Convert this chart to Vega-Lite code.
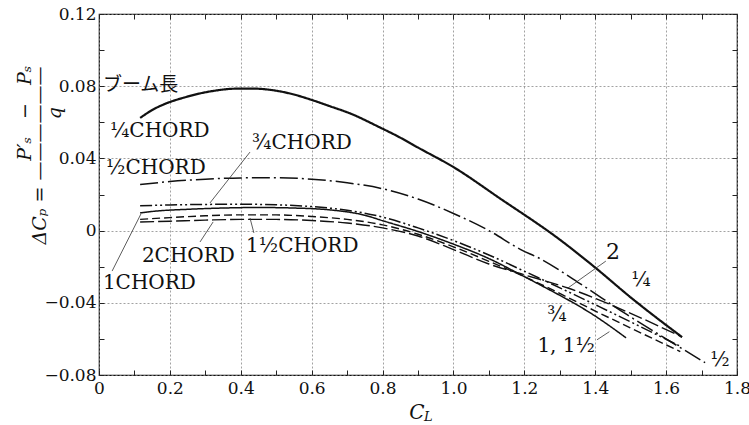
{
  "$schema": "https://vega.github.io/schema/vega-lite/v6.json",
  "width": 638,
  "height": 361,
  "autosize": "none",
  "padding": {"left": 99, "top": 14, "right": 12, "bottom": 50},
  "background": "white",
  "config": {
    "view": {"stroke": "#111", "strokeWidth": 1.2},
    "axis": {"labelFont": "DejaVu Serif", "labelColor": "#111", "tickColor": "#222", "domain": false}
  },
  "datasets": {
    "curves": [
      {"series": "1/4", "x": 0.116, "y": 0.0624},
      {"series": "1/4", "x": 0.15, "y": 0.0668},
      {"series": "1/4", "x": 0.19, "y": 0.0705},
      {"series": "1/4", "x": 0.24, "y": 0.0737},
      {"series": "1/4", "x": 0.285, "y": 0.076},
      {"series": "1/4", "x": 0.33, "y": 0.0776},
      {"series": "1/4", "x": 0.38, "y": 0.0786},
      {"series": "1/4", "x": 0.43, "y": 0.0787},
      {"series": "1/4", "x": 0.5, "y": 0.0775},
      {"series": "1/4", "x": 0.55, "y": 0.0754},
      {"series": "1/4", "x": 0.6, "y": 0.0724},
      {"series": "1/4", "x": 0.65, "y": 0.069},
      {"series": "1/4", "x": 0.71, "y": 0.0648},
      {"series": "1/4", "x": 0.79, "y": 0.0574},
      {"series": "1/4", "x": 0.85, "y": 0.0515},
      {"series": "1/4", "x": 0.9, "y": 0.046},
      {"series": "1/4", "x": 1.0, "y": 0.0352},
      {"series": "1/4", "x": 1.13, "y": 0.018},
      {"series": "1/4", "x": 1.3, "y": -0.005},
      {"series": "1/4", "x": 1.4, "y": -0.0205},
      {"series": "1/4", "x": 1.5, "y": -0.037},
      {"series": "1/4", "x": 1.645, "y": -0.059},
      {"series": "1/2", "x": 0.116, "y": 0.0255},
      {"series": "1/2", "x": 0.2, "y": 0.0272},
      {"series": "1/2", "x": 0.3, "y": 0.0285},
      {"series": "1/2", "x": 0.4, "y": 0.0292},
      {"series": "1/2", "x": 0.5, "y": 0.0293},
      {"series": "1/2", "x": 0.6, "y": 0.0285},
      {"series": "1/2", "x": 0.7, "y": 0.0265},
      {"series": "1/2", "x": 0.8, "y": 0.0232},
      {"series": "1/2", "x": 0.9, "y": 0.0175},
      {"series": "1/2", "x": 1.0, "y": 0.0095},
      {"series": "1/2", "x": 1.1, "y": 0.0},
      {"series": "1/2", "x": 1.19, "y": -0.0105},
      {"series": "1/2", "x": 1.244, "y": -0.0155},
      {"series": "1/2", "x": 1.35, "y": -0.0285},
      {"series": "1/2", "x": 1.49, "y": -0.0466},
      {"series": "1/2", "x": 1.6, "y": -0.06},
      {"series": "1/2", "x": 1.71, "y": -0.0732},
      {"series": "3/4", "x": 0.116, "y": 0.0138},
      {"series": "3/4", "x": 0.2, "y": 0.0142},
      {"series": "3/4", "x": 0.3, "y": 0.0145},
      {"series": "3/4", "x": 0.4, "y": 0.0146},
      {"series": "3/4", "x": 0.5, "y": 0.0143},
      {"series": "3/4", "x": 0.6, "y": 0.0133},
      {"series": "3/4", "x": 0.7, "y": 0.0113},
      {"series": "3/4", "x": 0.8, "y": 0.0075},
      {"series": "3/4", "x": 0.9, "y": 0.0015},
      {"series": "3/4", "x": 1.0, "y": -0.0055},
      {"series": "3/4", "x": 1.1, "y": -0.0135},
      {"series": "3/4", "x": 1.2, "y": -0.0225},
      {"series": "3/4", "x": 1.244, "y": -0.0265},
      {"series": "3/4", "x": 1.41, "y": -0.042},
      {"series": "3/4", "x": 1.64, "y": -0.0641},
      {"series": "1", "x": 0.116, "y": 0.0098},
      {"series": "1", "x": 0.16, "y": 0.0108},
      {"series": "1", "x": 0.25, "y": 0.0118},
      {"series": "1", "x": 0.35, "y": 0.0125},
      {"series": "1", "x": 0.45, "y": 0.0128},
      {"series": "1", "x": 0.55, "y": 0.0125},
      {"series": "1", "x": 0.65, "y": 0.0115},
      {"series": "1", "x": 0.75, "y": 0.0085},
      {"series": "1", "x": 0.8, "y": 0.0055},
      {"series": "1", "x": 0.9, "y": -0.0005},
      {"series": "1", "x": 1.0, "y": -0.0075},
      {"series": "1", "x": 1.1, "y": -0.0155},
      {"series": "1", "x": 1.2, "y": -0.0255},
      {"series": "1", "x": 1.244, "y": -0.03},
      {"series": "1", "x": 1.405, "y": -0.048},
      {"series": "1", "x": 1.487, "y": -0.0594},
      {"series": "1 1/2", "x": 0.116, "y": 0.0062},
      {"series": "1 1/2", "x": 0.2, "y": 0.0072},
      {"series": "1 1/2", "x": 0.3, "y": 0.0082},
      {"series": "1 1/2", "x": 0.4, "y": 0.0087},
      {"series": "1 1/2", "x": 0.5, "y": 0.0087},
      {"series": "1 1/2", "x": 0.6, "y": 0.0078},
      {"series": "1 1/2", "x": 0.7, "y": 0.0062},
      {"series": "1 1/2", "x": 0.8, "y": 0.0032},
      {"series": "1 1/2", "x": 0.9, "y": -0.002},
      {"series": "1 1/2", "x": 1.0, "y": -0.009},
      {"series": "1 1/2", "x": 1.1, "y": -0.017},
      {"series": "1 1/2", "x": 1.2, "y": -0.0255},
      {"series": "1 1/2", "x": 1.244, "y": -0.0295},
      {"series": "1 1/2", "x": 1.41, "y": -0.0455},
      {"series": "1 1/2", "x": 1.64, "y": -0.067},
      {"series": "2", "x": 0.116, "y": 0.0048},
      {"series": "2", "x": 0.2, "y": 0.0052},
      {"series": "2", "x": 0.3, "y": 0.0058},
      {"series": "2", "x": 0.4, "y": 0.0062},
      {"series": "2", "x": 0.5, "y": 0.0062},
      {"series": "2", "x": 0.6, "y": 0.0056},
      {"series": "2", "x": 0.7, "y": 0.0042},
      {"series": "2", "x": 0.8, "y": 0.0015},
      {"series": "2", "x": 0.9, "y": -0.003},
      {"series": "2", "x": 1.0, "y": -0.0105},
      {"series": "2", "x": 1.1, "y": -0.0185},
      {"series": "2", "x": 1.2, "y": -0.0245},
      {"series": "2", "x": 1.323, "y": -0.0318},
      {"series": "2", "x": 1.49, "y": -0.045},
      {"series": "2", "x": 1.645, "y": -0.059}
    ],
    "leaders": [
      {"x": 0.426, "y": 0.0435, "x2": 0.313, "y2": 0.0153},
      {"x": 0.037, "y": -0.0224, "x2": 0.1185, "y2": 0.0093},
      {"x": 0.285, "y": -0.0063, "x2": 0.322, "y2": 0.0048},
      {"x": 0.437, "y": -0.0013, "x2": 0.426, "y2": 0.007},
      {"x": 1.43, "y": -0.0169, "x2": 1.323, "y2": -0.0318},
      {"x": 1.405, "y": -0.0605, "x2": 1.44, "y2": -0.056}
    ],
    "texts": [
      {"kind": "chord", "label": "¼CHORD", "x": 0.031, "y": 0.0551},
      {"kind": "chord", "label": "½CHORD", "x": 0.02, "y": 0.0346},
      {"kind": "chord", "label": "¾CHORD", "x": 0.432, "y": 0.0485},
      {"kind": "chord", "label": "1CHORD", "x": 0.011, "y": -0.0289},
      {"kind": "chord", "label": "2CHORD", "x": 0.121, "y": -0.014},
      {"kind": "chord", "label": "1½CHORD", "x": 0.415, "y": -0.0085},
      {"kind": "jp", "label": "ブーム長", "x": 0.011, "y": 0.0806},
      {"kind": "frac", "label": "¼", "x": 1.529, "y": -0.0273},
      {"kind": "frac", "label": "¾", "x": 1.292, "y": -0.0467},
      {"kind": "frac", "label": "½", "x": 1.752, "y": -0.0715},
      {"kind": "frac", "label": "1, 1½", "x": 1.318, "y": -0.0638},
      {"kind": "two", "label": "2", "x": 1.45, "y": -0.0118},
      {"kind": "axis", "label": "C", "x": 0.897, "y": -0.1012},
      {"kind": "sub", "label": "L", "x": 0.929, "y": -0.1033}
    ]
  },
  "layer": [
    {
      "data": {"name": "curves"},
      "mark": {"type": "line", "interpolate": "monotone", "color": "#111", "strokeCap": "butt"},
      "encoding": {
        "x": {
          "field": "x", "type": "quantitative",
          "scale": {"domain": [0, 1.8], "nice": false, "zero": false},
          "axis": {
            "orient": "bottom",
            "values": [0, 0.1, 0.2, 0.3, 0.4, 0.5, 0.6, 0.7, 0.8, 0.9, 1, 1.1, 1.2, 1.3, 1.4, 1.5, 1.6, 1.7, 1.8],
            "labelExpr": "round(datum.value*10) % 2 == 0 ? (datum.value == 0 ? '0' : format(datum.value, '.1f')) : ''",
            "grid": true,
            "gridOpacity": {"condition": {"test": "round(datum.value*10) % 2 == 0", "value": 1}, "value": 0},
            "gridColor": "#8a8a8a", "gridDash": [2, 2], "gridWidth": 0.8,
            "tickSize": -5, "tickWidth": 1,
            "labelFontSize": 17, "labelPadding": 10, "labelFlush": false, "labelOverlap": false,
            "title": null
          }
        },
        "y": {
          "field": "y", "type": "quantitative",
          "scale": {"domain": [-0.08, 0.12], "nice": false, "zero": false},
          "axis": {
            "orient": "left",
            "values": [-0.08, -0.06, -0.04, -0.02, 0, 0.02, 0.04, 0.06, 0.08, 0.1, 0.12],
            "labelExpr": "round(abs(datum.value)*100) % 4 == 0 ? (datum.value == 0 ? '0' : format(datum.value, '.2f')) : ''",
            "grid": true,
            "gridOpacity": {"condition": {"test": "round(abs(datum.value)*100) % 4 == 0", "value": 1}, "value": 0},
            "gridColor": "#8a8a8a", "gridDash": [2, 2], "gridWidth": 0.8,
            "tickSize": -5, "tickWidth": 1,
            "labelFontSize": 17, "labelPadding": 8, "labelFlush": false, "labelOverlap": false,
            "title": ["\u200d\u00a0\u00a0\u00a0\u00a0\u00a0\u00a0\u00a0\u00a0\u00a0\u00a0\u00a0\u00a0\u00a0\u00a0P′ₛ\u00a0\u00a0\u00a0−\u00a0\u00a0\u00a0Pₛ", "ΔCₚ = ——————", "\u200d\u00a0\u00a0\u00a0\u00a0\u00a0\u00a0\u00a0\u00a0\u00a0\u00a0\u00a0\u00a0\u00a0\u00a0q"],
            "titleFont": "DejaVu Serif", "titleFontStyle": "italic", "titleFontWeight": "normal",
            "titleFontSize": 19, "titleLineHeight": 15, "titleColor": "#111",
            "titleAngle": -90, "titleAlign": "center", "titleBaseline": "middle",
            "titleX": -75, "titleY": 141
          }
        },
        "strokeDash": {
          "field": "series", "type": "nominal",
          "scale": {"domain": ["1/4", "1/2", "3/4", "1", "1 1/2", "2"], "range": [[1, 0], [18, 4, 2, 4], [12, 3, 2, 3, 2, 3], [1, 0], [8, 4], [14, 4]]},
          "legend": null
        },
        "strokeWidth": {
          "field": "series", "type": "nominal",
          "scale": {"type": "ordinal", "domain": ["1/4", "1/2", "3/4", "1", "1 1/2", "2"], "range": [2.2, 1.5, 1.5, 1.5, 1.4, 1.4]},
          "legend": null
        }
      }
    },
    {
      "data": {"name": "leaders"},
      "mark": {"type": "rule", "color": "#333", "strokeWidth": 0.8},
      "encoding": {
        "x": {
          "field": "x", "type": "quantitative",
          "scale": {"domain": [0, 1.8], "nice": false, "zero": false},
          "axis": {
            "orient": "top",
            "values": [0, 0.1, 0.2, 0.3, 0.4, 0.5, 0.6, 0.7, 0.8, 0.9, 1, 1.1, 1.2, 1.3, 1.4, 1.5, 1.6, 1.7, 1.8],
            "labels": false, "grid": false, "tickSize": -5, "title": null
          }
        },
        "y": {
          "field": "y", "type": "quantitative",
          "scale": {"domain": [-0.08, 0.12], "nice": false, "zero": false},
          "axis": {
            "orient": "right",
            "values": [-0.08, -0.06, -0.04, -0.02, 0, 0.02, 0.04, 0.06, 0.08, 0.1, 0.12],
            "labels": false, "grid": false, "tickSize": -5, "title": null
          }
        },
        "x2": {"field": "x2"},
        "y2": {"field": "y2"}
      }
    },
    {
      "data": {"name": "texts"},
      "transform": [{"filter": "datum.kind == 'chord'"}],
      "mark": {"type": "text", "align": "left", "baseline": "middle", "font": "DejaVu Serif", "fontSize": 20, "color": "#111"},
      "encoding": {
        "x": {"field": "x", "type": "quantitative", "scale": {"domain": [0, 1.8], "nice": false, "zero": false}, "axis": null},
        "y": {"field": "y", "type": "quantitative", "scale": {"domain": [-0.08, 0.12], "nice": false, "zero": false}, "axis": null},
        "text": {"field": "label"}
      }
    },
    {
      "data": {"name": "texts"},
      "transform": [{"filter": "datum.kind == 'jp'"}],
      "mark": {"type": "text", "align": "left", "baseline": "middle", "font": "Noto Sans CJK JP", "fontSize": 19, "color": "#111"},
      "encoding": {
        "x": {"field": "x", "type": "quantitative", "axis": null},
        "y": {"field": "y", "type": "quantitative", "axis": null},
        "text": {"field": "label"}
      }
    },
    {
      "data": {"name": "texts"},
      "transform": [{"filter": "datum.kind == 'frac'"}],
      "mark": {"type": "text", "align": "center", "baseline": "middle", "font": "DejaVu Serif", "fontSize": 20, "color": "#111"},
      "encoding": {
        "x": {"field": "x", "type": "quantitative", "axis": null},
        "y": {"field": "y", "type": "quantitative", "axis": null},
        "text": {"field": "label"}
      }
    },
    {
      "data": {"name": "texts"},
      "transform": [{"filter": "datum.kind == 'two'"}],
      "mark": {"type": "text", "align": "center", "baseline": "middle", "font": "DejaVu Serif", "fontSize": 22, "color": "#111"},
      "encoding": {
        "x": {"field": "x", "type": "quantitative", "axis": null},
        "y": {"field": "y", "type": "quantitative", "axis": null},
        "text": {"field": "label"}
      }
    },
    {
      "data": {"name": "texts"},
      "transform": [{"filter": "datum.kind == 'axis'"}],
      "mark": {"type": "text", "align": "center", "baseline": "middle", "font": "DejaVu Serif", "fontStyle": "italic", "fontSize": 20, "color": "#111"},
      "encoding": {
        "x": {"field": "x", "type": "quantitative", "axis": null},
        "y": {"field": "y", "type": "quantitative", "axis": null},
        "text": {"field": "label"}
      }
    },
    {
      "data": {"name": "texts"},
      "transform": [{"filter": "datum.kind == 'sub'"}],
      "mark": {"type": "text", "align": "center", "baseline": "middle", "font": "DejaVu Serif", "fontStyle": "italic", "fontSize": 13, "color": "#111"},
      "encoding": {
        "x": {"field": "x", "type": "quantitative", "axis": null},
        "y": {"field": "y", "type": "quantitative", "axis": null},
        "text": {"field": "label"}
      }
    }
  ]
}
